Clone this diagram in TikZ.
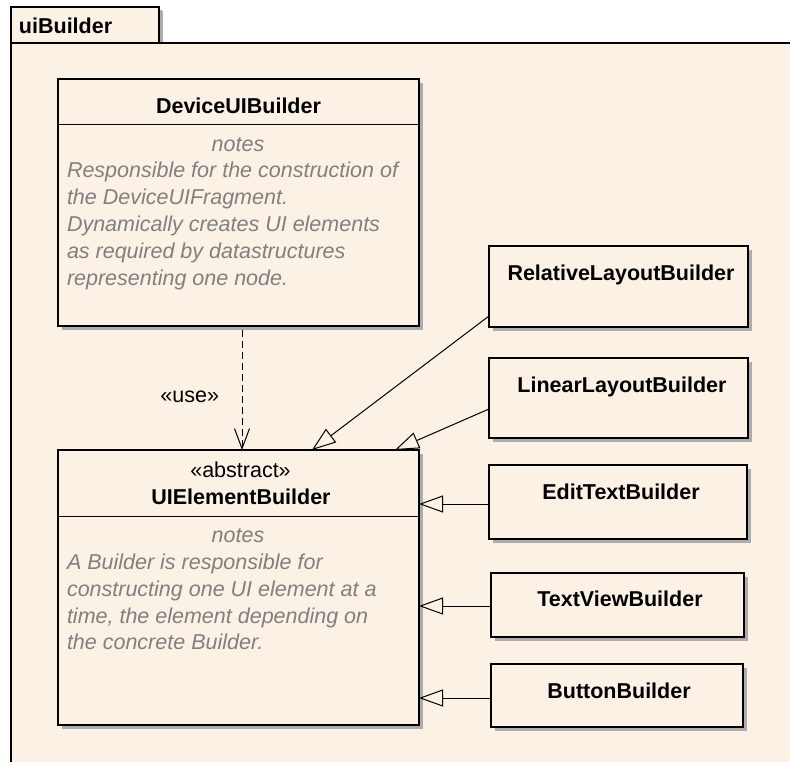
\documentclass[tikz,border=0pt]{standalone}
\usepackage{fontspec}
\setmainfont{Liberation Sans}
\usetikzlibrary{arrows.meta,shadows}
\definecolor{eafill}{RGB}{251,241,228}
\definecolor{notegray}{RGB}{128,128,128}
\definecolor{shadowgray}{RGB}{172,172,172}

\begin{document}
\begin{tikzpicture}[x=1pt,y=-1pt,
  every node/.style={font=\fontsize{21.5pt}{27pt}\selectfont, inner sep=0pt, outer sep=0pt},
  umlbox/.style={draw=black, line width=1.8pt, fill=eafill, anchor=north west,
    drop shadow={shadow xshift=4pt, shadow yshift=-4pt, fill=shadowgray, opacity=1}},
  pkgtab/.style={umlbox, drop shadow={shadow xshift=3pt, shadow yshift=-3pt, fill=shadowgray, opacity=1}},
  pkgbody/.style={draw=black, line width=1.8pt, fill=eafill, anchor=north west},
  title/.style={font=\fontsize{21.5pt}{27pt}\selectfont\bfseries, anchor=base},
  stereo/.style={anchor=base},
  notehead/.style={font=\fontsize{21.5pt}{27pt}\selectfont\itshape, text=notegray, anchor=base},
  noteline/.style={font=\fontsize{21.5pt}{27pt}\selectfont\itshape, text=notegray, anchor=base west},
  sepline/.style={line width=1pt},
  usedep/.style={line width=1pt, dash pattern=on 7pt off 4pt, -{Straight Barb[length=20pt,width=15pt,line width=1pt]}},
  generalize/.style={line width=1pt, -{Triangle[open,length=24pt,width=17pt,line width=1pt,fill=eafill]}}
]
\useasboundingbox (0,0) rectangle (790,761);
\fill[white] (0,0) rectangle (790,761);
\clip (0,0) rectangle (790,761);

% package frame with its name tab
\node[pkgtab, minimum width=148pt, minimum height=36pt] (tab) at (11,7) {};
\node[pkgbody, minimum width=819pt, minimum height=757pt] (pkg) at (11,43) {};
\node[title, anchor=base west] (pkgname) at (19,33.5) {uiBuilder};

% DeviceUIBuilder
\node[umlbox, minimum width=361pt, minimum height=247pt] (dev) at (58,79) {};
\draw[sepline] ([yshift=-45pt]dev.north west) -- ([yshift=-45pt]dev.north east);
\node[title] (devtitle) at (238.5,113) {DeviceUIBuilder};
\node[notehead] (devnotes) at (238,151.5) {notes};
\node[noteline] (devn1) at (67,177.5) {Responsible for the construction of};
\node[noteline] (devn2) at (67,204.5) {the DeviceUIFragment.};
\node[noteline] (devn3) at (67,231.5) {Dynamically creates UI elements};
\node[noteline] (devn4) at (67,258.5) {as required by datastructures};
\node[noteline] (devn5) at (67,285.5) {representing one node.};

% UIElementBuilder
\node[umlbox, minimum width=361pt, minimum height=275pt] (ui) at (58,450) {};
\draw[sepline] ([yshift=-66pt]ui.north west) -- ([yshift=-66pt]ui.north east);
\node[stereo] (uistereo) at (240.5,477.5) {«abstract»};
\node[title] (uititle) at (241,504.5) {UIElementBuilder};
\node[notehead] (uinotes) at (238,542.5) {notes};
\node[noteline] (uin1) at (67,569.5) {A Builder is responsible for};
\node[noteline] (uin2) at (67,596.5) {constructing one UI element at a};
\node[noteline] (uin3) at (67,623) {time, the element depending on};
\node[noteline] (uin4) at (67,649.5) {the concrete Builder.};

% concrete builders
\node[umlbox, minimum width=259pt, minimum height=81pt] (rel) at (489,246) {};
\node[title] (reltitle) at (621,280) {RelativeLayoutBuilder};
\node[umlbox, minimum width=259pt, minimum height=80pt] (lin) at (489,358) {};
\node[title] (lintitle) at (622,392) {LinearLayoutBuilder};
\node[umlbox, minimum width=258pt, minimum height=74pt] (edit) at (489,465) {};
\node[title] (edittitle) at (621,499) {EditTextBuilder};
\node[umlbox, minimum width=253pt, minimum height=64pt] (tv) at (491,573) {};
\node[title] (tvtitle) at (620,606.5) {TextViewBuilder};
\node[umlbox, minimum width=252pt, minimum height=63pt] (btn) at (491,664) {};
\node[title] (btntitle) at (619,698.5) {ButtonBuilder};

% dependency
\draw[usedep] ([xshift=184pt,yshift=-4pt]dev.south west) -- ([xshift=184pt]ui.north west);
\node[stereo, anchor=base east] (uselabel) at (219,402.5) {«use»};

% generalizations
\draw[generalize] ([yshift=11pt]rel.south west) -- ([xshift=254pt]ui.north west);
\draw[generalize] ([yshift=29pt]lin.south west) -- ([xshift=337pt]ui.north west);
\draw[generalize] ([yshift=-2pt]edit.west) -- ([yshift=-2pt]edit.west -| ui.east);
\draw[generalize] ([yshift=-1pt]tv.west) -- ([yshift=-1pt]tv.west -| ui.east);
\draw[generalize] ([yshift=-2.5pt]btn.west) -- ([yshift=-2.5pt]btn.west -| ui.east);
\end{tikzpicture}
\end{document}
